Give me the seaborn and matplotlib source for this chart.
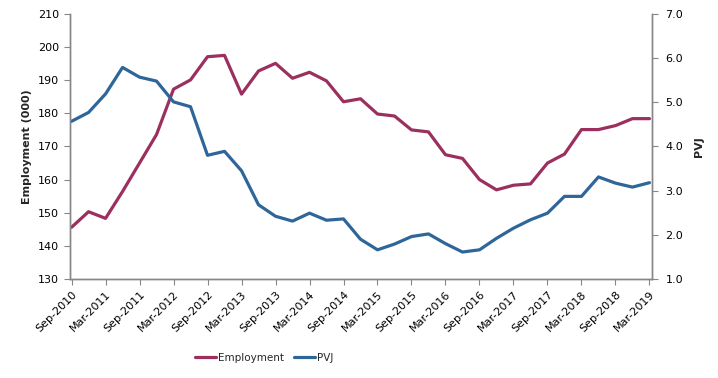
import matplotlib
matplotlib.use("Agg")
import matplotlib.pyplot as plt
from matplotlib.lines import Line2D
import pandas as pd
import seaborn as sns

quarters = [
    "Sep-2010", "Dec-2010", "Mar-2011", "Jun-2011", "Sep-2011", "Dec-2011",
    "Mar-2012", "Jun-2012", "Sep-2012", "Dec-2012", "Mar-2013", "Jun-2013",
    "Sep-2013", "Dec-2013", "Mar-2014", "Jun-2014", "Sep-2014", "Dec-2014",
    "Mar-2015", "Jun-2015", "Sep-2015", "Dec-2015", "Mar-2016", "Jun-2016",
    "Sep-2016", "Dec-2016", "Mar-2017", "Jun-2017", "Sep-2017", "Dec-2017",
    "Mar-2018", "Jun-2018", "Sep-2018", "Dec-2018", "Mar-2019",
]
employment = [
    145.6, 150.3, 148.3, 156.4, 165.0, 173.6, 187.3, 190.1, 197.1, 197.5,
    185.8, 192.8, 195.1, 190.6, 192.4, 189.8, 183.5, 184.4, 179.8, 179.2,
    175.0, 174.4, 167.5, 166.4, 160.0, 156.9, 158.3, 158.7, 165.0, 167.7,
    175.1, 175.1, 176.3, 178.4, 178.4,
]
pvj = [
    4.57, 4.77, 5.19, 5.79, 5.57, 5.48, 5.01, 4.90, 3.80, 3.89,
    3.45, 2.68, 2.42, 2.31, 2.49, 2.33, 2.36, 1.90, 1.66, 1.79,
    1.96, 2.02, 1.80, 1.61, 1.66, 1.92, 2.15, 2.34, 2.49, 2.87,
    2.87, 3.31, 3.17, 3.08, 3.18,
]

RED = "#9b305f"
BLUE = "#2f6699"
GREY = "#868686"

df = pd.DataFrame({"idx": range(len(quarters)), "Employment": employment, "PVJ": pvj})

sns.set_style("white")
plt.rcParams["font.family"] = ["DejaVu Sans"]

fig = plt.figure(figsize=(7.18, 3.78), dpi=100)
ax = fig.add_axes([69.5 / 718, 0.262, 582 / 718, 0.701])
ax2 = ax.twinx()

sns.lineplot(data=df, x="idx", y="Employment", ax=ax, color=RED, linewidth=2.3)
sns.lineplot(data=df, x="idx", y="PVJ", ax=ax2, color=BLUE, linewidth=2.3)

ax.set_xlim(-0.12, len(quarters) - 1 + 0.12)
ax.set_ylim(130, 210)
ax.set_yticks(range(130, 211, 10))
ax2.set_ylim(1.0, 7.0)
ax2.set_yticks([1, 2, 3, 4, 5, 6, 7])
ax2.set_yticklabels([f"{v:.1f}" for v in range(1, 8)])

ticks = list(range(0, len(quarters), 2))
ax.set_xticks(ticks)
ax.set_xticklabels([quarters[i] for i in ticks], rotation=45, ha="right",
                   rotation_mode="anchor", fontsize=8)
ax.set_xlabel("")
ax.set_ylabel("Employment (000)", fontsize=8, fontweight="bold")
ax2.set_ylabel("PVJ", fontsize=8, fontweight="bold", labelpad=8)

for a in (ax, ax2):
    a.grid(False)
    a.spines["top"].set_visible(False)
    for s in ("left", "right", "bottom"):
        a.spines[s].set_color(GREY)
        a.spines[s].set_linewidth(1)
    a.tick_params(axis="both", which="both", direction="out", length=4,
                  color=GREY, labelsize=8, labelcolor="black")
ax.tick_params(left=True, bottom=True)
ax2.tick_params(right=True, pad=6)

handles = [Line2D([], [], color=RED, lw=2.3), Line2D([], [], color=BLUE, lw=2.3)]
fig.legend(handles, ["Employment", "PVJ"], loc="center", bbox_to_anchor=(0.368, 0.053),
           ncol=2, frameon=False, fontsize=7.5, handlelength=2.0, columnspacing=0.9,
           handletextpad=0.2)

fig.savefig("out.png", dpi=100)
